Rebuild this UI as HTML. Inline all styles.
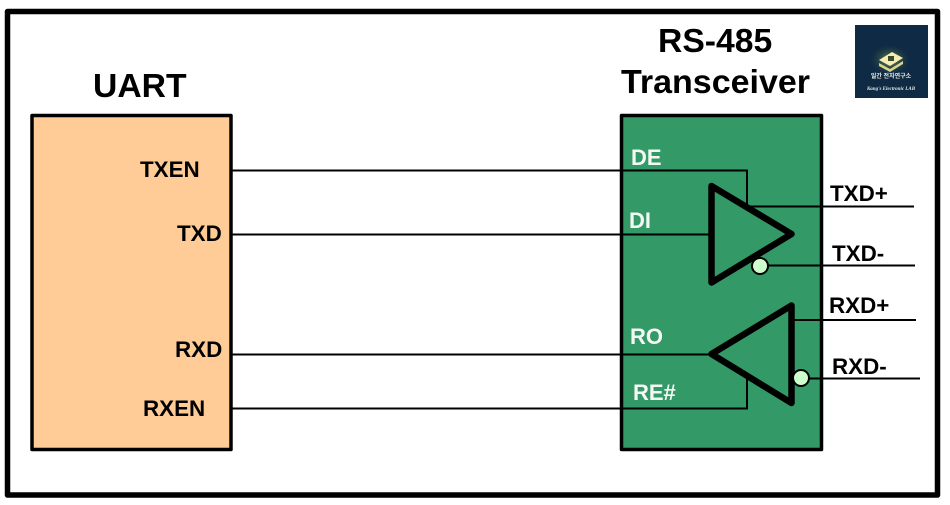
<!DOCTYPE html>
<html>
<head>
<meta charset="utf-8">
<style>
html,body{margin:0;padding:0;background:#fff;width:950px;height:505px;overflow:hidden}
svg{display:block}
text{font-family:"Liberation Sans",sans-serif;font-weight:bold}
.t{font-size:33.7px;fill:#000}
.b{font-size:22.4px;fill:#000}
.w{font-size:22px;fill:#f4f8f4}
.o{font-size:22.4px;fill:#000}
</style>
</head>
<body>
<svg width="950" height="505" viewBox="0 0 950 505" xmlns="http://www.w3.org/2000/svg">
<defs>
<radialGradient id="g"><stop offset="0" stop-color="#8a9a50" stop-opacity="0.9"/><stop offset="1" stop-color="#0e2a44" stop-opacity="0"/></radialGradient>
</defs>
<rect x="0" y="0" width="950" height="505" fill="#fff"/>
<rect x="7.5" y="11.5" width="930" height="483.5" fill="#fff" stroke="#000" stroke-width="5.5" stroke-linejoin="round"/>

<rect x="32" y="115.5" width="199" height="334" fill="#ffcb96" stroke="#000" stroke-width="3.5" stroke-linejoin="round"/>
<rect x="621.5" y="115.5" width="200" height="334" fill="#339966" stroke="#000" stroke-width="3.5" stroke-linejoin="round"/>

<g fill="none" stroke="#000" stroke-width="2">
<polyline points="232,170.5 747,170.5 747,207"/>
<line x1="747" y1="206.5" x2="914" y2="206.5"/>
<line x1="232" y1="234.5" x2="712" y2="234.5"/>
<line x1="760" y1="265.5" x2="915" y2="265.5"/>
<line x1="792" y1="320" x2="916" y2="320"/>
<line x1="800" y1="378.5" x2="920" y2="378.5"/>
<line x1="232" y1="354.5" x2="712" y2="354.5"/>
<polyline points="232,408.5 747,408.5 747,378"/>
</g>

<polygon points="711.5,186 711.5,282.5 791.5,234" fill="#339966" stroke="#000" stroke-width="6.5" stroke-linejoin="round"/>
<polygon points="711.5,354 791.5,305.5 791.5,403" fill="#339966" stroke="#000" stroke-width="6.5" stroke-linejoin="round"/>
<line x1="747" y1="170.5" x2="747" y2="204" stroke="#000" stroke-width="2"/>
<line x1="747" y1="408.5" x2="747" y2="379" stroke="#000" stroke-width="2"/>

<circle cx="760" cy="266" r="8" fill="#ccffcc" stroke="#000" stroke-width="2"/>
<circle cx="801" cy="378" r="8" fill="#ccffcc" stroke="#000" stroke-width="2"/>

<text class="t" x="93" y="97">UART</text>
<text class="t" x="658" y="52">RS-485</text>
<text class="t" x="621" y="93" textLength="189" lengthAdjust="spacingAndGlyphs">Transceiver</text>

<text class="b" x="140" y="177">TXEN</text>
<text class="b" x="177" y="241">TXD</text>
<text class="b" x="175" y="357">RXD</text>
<text class="b" x="143" y="416">RXEN</text>

<text class="w" x="631" y="165">DE</text>
<text class="w" x="629" y="228">DI</text>
<text class="w" x="630" y="344">RO</text>
<text class="w" x="633" y="400">RE#</text>

<text class="o" x="830" y="201">TXD+</text>
<text class="o" x="832" y="261">TXD-</text>
<text class="o" x="829" y="313">RXD+</text>
<text class="o" x="832" y="374">RXD-</text>

<rect x="855" y="25" width="73" height="73" fill="#0e2a44"/>
<ellipse cx="890" cy="60" rx="22" ry="17" fill="url(#g)"/>
<polygon points="879,60 892,52 903,58 890,66" fill="#f3eeb0"/>
<polygon points="879,63 890,69 903,61 903,64 890,72 879,66" fill="#d8d48a"/>
<rect x="888" y="56" width="6" height="5" fill="#3a4a30"/>
<text x="891" y="78" text-anchor="middle" style="font-size:6px;fill:#e8e8e0;font-family:'Liberation Sans','Noto Sans CJK KR',sans-serif">일간 전자연구소</text>
<text x="891" y="90" text-anchor="middle" style="font-size:5px;fill:#e8e8e0;font-style:italic;font-family:'Liberation Serif',serif">Kang's Electronic LAB</text>
</svg>
</body>
</html>
